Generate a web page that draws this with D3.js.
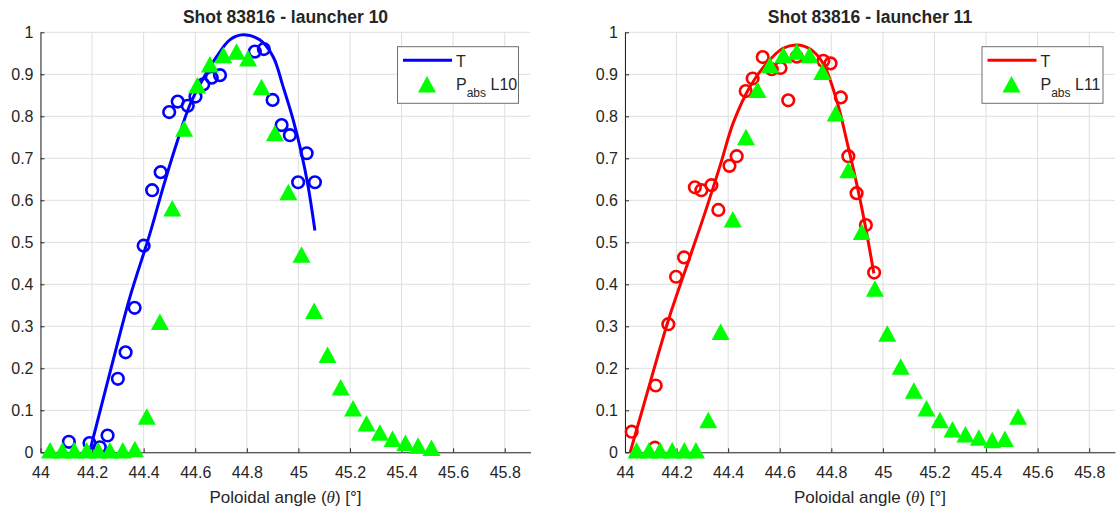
<!DOCTYPE html>
<html>
<head>
<meta charset="utf-8">
<script src="https://cdn.jsdelivr.net/npm/d3@7"></script>
<style>
  html, body { margin: 0; padding: 0; background: #ffffff; }
  svg { display: block; }
  text { font-family: "Liberation Sans", Arial, Helvetica, sans-serif; fill: #262626; }
</style>
</head>
<body>
<svg id="chart" width="1116" height="513"></svg>
<script>
// ---- Launcher 10 ----
// transmission measurements (circles)
const l10CircleX = [44.11, 44.19, 44.23, 44.26, 44.30, 44.33, 44.365, 44.40, 44.433, 44.466, 44.499, 44.532, 44.571, 44.601, 44.631, 44.664, 44.696, 44.831, 44.866, 44.90, 44.935, 44.967, 44.999, 45.032, 45.064];
const l10CircleY = [0.025, 0.022, 0.012, 0.04, 0.175, 0.238, 0.344, 0.492, 0.624, 0.667, 0.81, 0.835, 0.825, 0.847, 0.876, 0.892, 0.898, 0.954, 0.96, 0.839, 0.779, 0.755, 0.643, 0.712, 0.643];
// fitted transmission T
const l10FitX = [44.195, 44.282, 44.347, 44.424, 44.476, 44.528, 44.579, 44.631, 44.683, 44.734, 44.786, 44.85, 44.902, 44.941, 44.98, 45.012, 45.038, 45.064];
const l10FitY = [0.012, 0.22, 0.37, 0.52, 0.632, 0.736, 0.827, 0.89, 0.942, 0.982, 0.994, 0.982, 0.942, 0.870, 0.791, 0.712, 0.632, 0.528];
// absorbed power P_abs L10
const l10PabsX = [44.037, 44.085, 44.131, 44.179, 44.224, 44.269, 44.319, 44.366, 44.412, 44.463, 44.511, 44.557, 44.608, 44.657, 44.709, 44.76, 44.805, 44.857, 44.909, 44.961, 45.012, 45.061, 45.113, 45.164, 45.212, 45.264, 45.316, 45.365, 45.415, 45.464, 45.516];
const l10PabsY = [0.005, 0.005, 0.005, 0.005, 0.005, 0.005, 0.005, 0.008, 0.085, 0.311, 0.581, 0.771, 0.874, 0.924, 0.946, 0.954, 0.938, 0.87, 0.76, 0.62, 0.471, 0.337, 0.232, 0.155, 0.105, 0.069, 0.047, 0.032, 0.023, 0.016, 0.011];

// ---- Launcher 11 ----
const l11CircleX = [44.026, 44.116, 44.119, 44.168, 44.198, 44.229, 44.271, 44.296, 44.335, 44.362, 44.405, 44.433, 44.468, 44.495, 44.534, 44.569, 44.603, 44.633, 44.666, 44.769, 44.797, 44.837, 44.866, 44.898, 44.934, 44.966];
const l11CircleY = [0.049, 0.011, 0.159, 0.305, 0.418, 0.464, 0.631, 0.624, 0.636, 0.577, 0.682, 0.705, 0.86, 0.89, 0.941, 0.912, 0.915, 0.838, 0.942, 0.932, 0.926, 0.845, 0.705, 0.617, 0.541, 0.428];
const l11FitX = [44.02, 44.07, 44.17, 44.25, 44.31, 44.37, 44.42, 44.484, 44.549, 44.613, 44.666, 44.718, 44.769, 44.824, 44.862, 44.901, 44.93, 44.965];
const l11FitY = [0.0, 0.107, 0.318, 0.462, 0.57, 0.685, 0.785, 0.87, 0.926, 0.962, 0.97, 0.96, 0.925, 0.831, 0.736, 0.632, 0.545, 0.426];
const l11PabsX = [44.045, 44.093, 44.136, 44.183, 44.23, 44.275, 44.323, 44.371, 44.418, 44.469, 44.514, 44.562, 44.614, 44.666, 44.715, 44.765, 44.817, 44.866, 44.918, 44.969, 45.017, 45.069, 45.12, 45.169, 45.221, 45.27, 45.32, 45.372, 45.424, 45.473, 45.524];
const l11PabsY = [0.005, 0.005, 0.005, 0.005, 0.005, 0.005, 0.077, 0.287, 0.555, 0.751, 0.863, 0.922, 0.946, 0.954, 0.946, 0.906, 0.807, 0.672, 0.525, 0.39, 0.283, 0.204, 0.147, 0.105, 0.077, 0.055, 0.043, 0.035, 0.029, 0.032, 0.085];

// axis ticks
const xTicks = [44, 44.2, 44.4, 44.6, 44.8, 45, 45.2, 45.4, 45.6, 45.8];
const yTicks = [0, 0.1, 0.2, 0.3, 0.4, 0.5, 0.6, 0.7, 0.8, 0.9, 1];
const xDomain = [44, 45.9];
const yDomain = [0, 1];

const panels = [
  { title: "Shot 83816 - launcher 10", color: "#0000ff", label: "L10",
    cx: l10CircleX, cy: l10CircleY, fx: l10FitX, fy: l10FitY, px: l10PabsX, py: l10PabsY,
    left: 40.5, right: 530.5 },
  { title: "Shot 83816 - launcher 11", color: "#ff0000", label: "L11",
    cx: l11CircleX, cy: l11CircleY, fx: l11FitX, fy: l11FitY, px: l11PabsX, py: l11PabsY,
    left: 625, right: 1115 }
];

const plotTop = 32.3, plotBottom = 452.3;
const svg = d3.select("#chart");
const green = "#00ff00";
const triW = 18, triH = 16.5;

function triangle(cx, cy) {
  return `M${cx},${cy - triH / 2}L${cx + triW / 2},${cy + triH / 2}L${cx - triW / 2},${cy + triH / 2}Z`;
}

panels.forEach(p => {
  const x = d3.scaleLinear().domain(xDomain).range([p.left, p.right]);
  const y = d3.scaleLinear().domain(yDomain).range([plotBottom, plotTop]);
  const g = svg.append("g");

  // grid
  g.append("g").selectAll("line").data(xTicks).join("line")
    .attr("x1", d => x(d)).attr("x2", d => x(d))
    .attr("y1", plotTop).attr("y2", plotBottom)
    .attr("stroke", "#dfdfdf").attr("stroke-width", 1);
  g.append("g").selectAll("line").data(yTicks).join("line")
    .attr("x1", p.left).attr("x2", p.right)
    .attr("y1", d => y(d)).attr("y2", d => y(d))
    .attr("stroke", "#dfdfdf").attr("stroke-width", 1);

  // axes
  const xAxis = d3.axisBottom(x).tickValues(xTicks).tickFormat(d3.format("")).tickSizeInner(-4).tickSizeOuter(0).tickPadding(14);
  const yAxis = d3.axisLeft(y).tickValues(yTicks).tickFormat(d3.format("")).tickSizeInner(-4).tickSizeOuter(0).tickPadding(7);
  const gx = g.append("g").attr("transform", `translate(0,${plotBottom})`).call(xAxis);
  const gy = g.append("g").attr("transform", `translate(${p.left},0)`).call(yAxis);
  [gx, gy].forEach(a => {
    a.select(".domain").attr("stroke", "#262626");
    a.selectAll(".tick line").attr("stroke", "#262626");
    a.selectAll(".tick text").attr("fill", "#262626").style("font-size", "16px")
      .style("font-family", '"Liberation Sans", Arial, sans-serif');
  });

  // measured transmission circles
  g.append("g").selectAll("circle").data(p.cx.map((v, i) => [v, p.cy[i]])).join("circle")
    .attr("cx", d => x(d[0])).attr("cy", d => y(d[1])).attr("r", 5.8)
    .attr("fill", "none").attr("stroke", p.color).attr("stroke-width", 2.6);

  // fitted T curve
  const line = d3.line().x(d => x(d[0])).y(d => y(d[1])).curve(d3.curveCatmullRom.alpha(0.5));
  g.append("path").datum(p.fx.map((v, i) => [v, p.fy[i]]))
    .attr("d", line).attr("fill", "none").attr("stroke", p.color).attr("stroke-width", 3);

  // absorbed power triangles
  g.append("g").selectAll("path").data(p.px.map((v, i) => [v, p.py[i]])).join("path")
    .attr("d", d => triangle(x(d[0]), y(d[1])))
    .attr("fill", green);

  // title
  g.append("text").attr("x", (p.left + p.right) / 2).attr("y", 23)
    .attr("text-anchor", "middle").style("font-size", "17.5px").style("font-weight", "bold")
    .text(p.title);

  // x label
  const xl = g.append("text").attr("x", (p.left + p.right) / 2).attr("y", 503)
    .attr("text-anchor", "middle").style("font-size", "17px");
  xl.append("tspan").text("Poloidal angle (");
  xl.append("tspan").style("font-family", '"Liberation Serif", "DejaVu Serif", serif').style("font-style", "italic").text("θ");
  xl.append("tspan").text(") [°]");

  // legend
  const lx = p.right - 133, ly = 46.7, lw = 121, lh = 56.6;
  const lg = g.append("g");
  lg.append("rect").attr("x", lx).attr("y", ly).attr("width", lw).attr("height", lh)
    .attr("fill", "#ffffff").attr("stroke", "#6e6e6e").attr("stroke-width", 1);
  lg.append("line").attr("x1", lx + 5.5).attr("x2", lx + 54.5).attr("y1", ly + 13.5).attr("y2", ly + 13.5)
    .attr("stroke", p.color).attr("stroke-width", 3);
  lg.append("text").attr("x", lx + 58.5).attr("y", ly + 20).style("font-size", "16px").text("T");
  lg.append("path").attr("d", triangle(lx + 29.5, ly + 37.5)).attr("fill", green);
  const pt = lg.append("text").attr("x", lx + 58.5).attr("y", ly + 43.5).style("font-size", "16px");
  pt.append("tspan").text("P");
  pt.append("tspan").attr("dy", 7).style("font-size", "12px").text("abs");
  pt.append("tspan").attr("dy", -7).text(" " + p.label);
});
</script>
</body>
</html>
